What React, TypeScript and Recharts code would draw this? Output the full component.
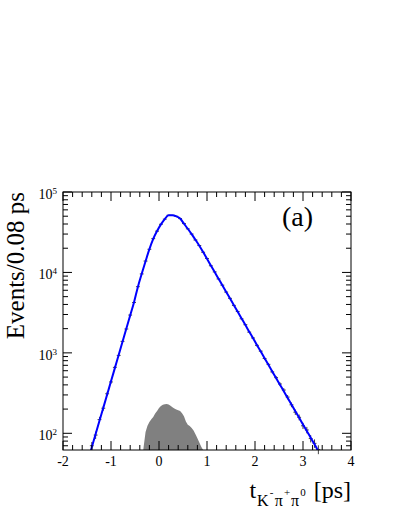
import React from 'react';
import { ComposedChart, Line, Area, Scatter, XAxis, YAxis, ErrorBar } from 'recharts';

const W = 399;
const H = 516;
const PLOT = { left: 63, right: 351, top: 192, bottom: 450 };
const FONT = '"Liberation Serif", "Times New Roman", serif';
const X_MIN = -2;
const X_MAX = 4;
const Y_MIN = 62;
const Y_MAX = 100000;
const BIN_HALF = 0.04;

const X_MAJOR = [-2, -1, 0, 1, 2, 3, 4];
const X_MINOR = [-1.8, -1.6, -1.4, -1.2, -0.8, -0.6, -0.4, -0.2, 0.2, 0.4, 0.6, 0.8, 1.2, 1.4, 1.6, 1.8, 2.2, 2.4, 2.6, 2.8, 3.2, 3.4, 3.6, 3.8];
const Y_MAJOR = [100, 1000, 10000, 100000];
const Y_MINOR = [70, 80, 90, 200, 300, 400, 500, 600, 700, 800, 900, 2000, 3000, 4000, 5000, 6000, 7000, 8000, 9000, 20000, 30000, 40000, 50000, 60000, 70000, 80000, 90000];

// fit curve (blue)
const FIT_T = [-1.56, -1.48, -1.40, -1.32, -1.24, -1.16, -1.08, -1.00, -0.92, -0.84, -0.76, -0.68, -0.60, -0.52, -0.44, -0.36, -0.28, -0.20, -0.12, -0.04, 0.04, 0.12, 0.20, 0.28, 0.36, 0.44, 0.52, 0.60, 0.68, 0.76, 0.84, 0.92, 1.00, 1.08, 1.16, 1.24, 1.32, 1.40, 1.48, 1.56, 1.64, 1.72, 1.80, 1.88, 1.96, 2.04, 2.12, 2.20, 2.28, 2.36, 2.44, 2.52, 2.60, 2.68, 2.76, 2.84, 2.92, 3.00, 3.08, 3.16, 3.24, 3.32, 3.40, 3.48];
const FIT_N = [31, 46, 67, 98, 143, 208, 303, 443, 646, 942, 1374, 2004, 2924, 4266, 6610, 9620, 13770, 19500, 26200, 32700, 39600, 46100, 51500, 51500, 49800, 46800, 40400, 34900, 29900, 25400, 21500, 17900, 14800, 12200, 10100, 8360, 6920, 5730, 4730, 3920, 3240, 2680, 2220, 1830, 1520, 1250, 1040, 859, 710, 587, 486, 402, 333, 275, 228, 188, 156, 129, 107, 88, 73, 60, 50, 41];

// data points
const PT_T = [-1.40, -1.32, -1.24, -1.16, -1.08, -1.00, -0.92, -0.84, -0.76, -0.68, -0.60, -0.52, -0.44, -0.36, -0.28, -0.20, -0.12, -0.04, 0.04, 0.12, 0.20, 0.28, 0.36, 0.44, 0.52, 0.60, 0.68, 0.76, 0.84, 0.92, 1.00, 1.08, 1.16, 1.24, 1.32, 1.40, 1.48, 1.56, 1.64, 1.72, 1.80, 1.88, 1.96, 2.04, 2.12, 2.20, 2.28, 2.36, 2.44, 2.52, 2.60, 2.68, 2.76, 2.84, 2.92, 3.00, 3.08, 3.16, 3.24, 3.32];
const PT_N = [70, 95, 148, 205, 310, 435, 660, 930, 1390, 1980, 2950, 4230, 6650, 9580, 13850, 19400, 26300, 32600, 39700, 46000, 51400, 51300, 49900, 46700, 40500, 34800, 30000, 25300, 21600, 17800, 14900, 12100, 10150, 8300, 6950, 5700, 4760, 3890, 3270, 2650, 2240, 1810, 1530, 1240, 1050, 850, 720, 580, 492, 410, 345, 282, 226, 183, 158, 124, 110, 86, 75, 63];
const PT_E = [8, 10, 12, 14, 18, 21, 26, 30, 37, 44, 54, 65, 82, 98, 118, 139, 162, 181, 199, 214, 227, 226, 223, 216, 201, 187, 173, 159, 147, 133, 122, 110, 101, 91, 83, 75, 69, 62, 57, 51, 47, 43, 39, 35, 32, 29, 27, 24, 22, 20, 19, 17, 15, 14, 13, 11, 10, 9, 9, 8];

// background (gray)
const BKG_T = [-0.36, -0.32, -0.28, -0.24, -0.20, -0.16, -0.12, -0.08, -0.04, 0.00, 0.04, 0.08, 0.12, 0.16, 0.20, 0.24, 0.28, 0.32, 0.36, 0.40, 0.44, 0.48, 0.52, 0.56, 0.60, 0.64, 0.68, 0.72, 0.76, 0.80, 0.84, 0.88, 0.92, 0.96];
const BKG_N = [40, 68, 104, 124, 138, 150, 160, 176, 190, 206, 218, 226, 229, 232, 228, 220, 211, 204, 198, 194, 189, 178, 163, 140, 128, 123, 116, 108, 97, 87, 77, 68, 62, 50];

const fitData = FIT_T.map((t, i) => ({ t, n: FIT_N[i] }));
const pointData = PT_T.map((t, i) => ({ t, n: PT_N[i], e: PT_E[i], ex: BIN_HALF }));
const bkgData = BKG_T.map((t, i) => ({ t, n: BKG_N[i] }));

const isIn = (arr: number[], v: number) => arr.some((m) => Math.abs(m - v) < 1e-6);

const XTick = (props: any) => {
  const { x, payload } = props;
  const v = payload.value;
  const major = isIn(X_MAJOR, v);
  const len = major ? 9 : 5;
  return (
    <g>
      <line x1={x} x2={x} y1={PLOT.bottom} y2={PLOT.bottom - len} stroke="#000" strokeWidth={1} />
      <line x1={x} x2={x} y1={PLOT.top} y2={PLOT.top + len} stroke="#000" strokeWidth={1} />
      {major && (
        <text x={x} y={466} textAnchor="middle" fontSize={14} fontFamily={FONT} fill="#000">
          {String(v)}
        </text>
      )}
    </g>
  );
};

const YTick = (props: any) => {
  const { y, payload } = props;
  const v = payload.value;
  const major = isIn(Y_MAJOR, v);
  const len = major ? 9 : 5;
  const exp = Math.round(Math.log10(v));
  return (
    <g>
      <line x1={PLOT.left} x2={PLOT.left + len} y1={y} y2={y} stroke="#000" strokeWidth={1} />
      <line x1={PLOT.right} x2={PLOT.right - len} y1={y} y2={y} stroke="#000" strokeWidth={1} />
      {major && (
        <text x={57} y={y + 7} textAnchor="end" fontSize={14} fontFamily={FONT} fill="#000">
          10
          <tspan fontSize={9} dy={-5}>{exp}</tspan>
        </text>
      )}
    </g>
  );
};

export default function App() {
  return (
    <div style={{ position: 'absolute', left: 0, top: 0, width: W, height: H, background: '#fff' }}>
      <ComposedChart
        width={W}
        height={H}
        margin={{ top: PLOT.top, right: W - PLOT.right, bottom: 36, left: 23 }}
      >
        <XAxis
          type="number"
          dataKey="t"
          domain={[X_MIN, X_MAX]}
          ticks={[...X_MAJOR, ...X_MINOR].sort((a, b) => a - b)}
          interval={0}
          allowDataOverflow
          axisLine={false}
          tickLine={false}
          tick={<XTick />}
          height={H - PLOT.bottom - 36}
        />
        <YAxis
          type="number"
          dataKey="n"
          scale="log"
          domain={[Y_MIN, Y_MAX]}
          ticks={[...Y_MINOR, ...Y_MAJOR].sort((a, b) => a - b)}
          interval={0}
          allowDataOverflow
          axisLine={false}
          tickLine={false}
          tick={<YTick />}
          width={PLOT.left - 23}
        />
        <Area
          data={bkgData}
          dataKey="n"
          type="linear"
          baseValue={Y_MIN}
          fill="#808080"
          fillOpacity={1}
          stroke="none"
          isAnimationActive={false}
        />
        <Scatter data={pointData} dataKey="n" shape={() => <g />} isAnimationActive={false}>
          <ErrorBar dataKey="e" direction="y" width={0} stroke="#444" strokeWidth={1} />
          <ErrorBar dataKey="ex" direction="x" width={0} stroke="#444" strokeWidth={1} />
        </Scatter>
        <Line
          data={fitData}
          dataKey="n"
          type="monotone"
          stroke="#0000ff"
          strokeWidth={2}
          dot={false}
          isAnimationActive={false}
        />
      </ComposedChart>
      <svg
        width={W}
        height={H}
        style={{ position: 'absolute', left: 0, top: 0, pointerEvents: 'none' }}
      >
        <rect
          x={PLOT.left}
          y={PLOT.top}
          width={PLOT.right - PLOT.left}
          height={PLOT.bottom - PLOT.top}
          fill="none"
          stroke="#000"
          strokeWidth={1}
        />
        <text
          transform={`translate(23.5, ${PLOT.top}) rotate(-90)`}
          textAnchor="end"
          fontSize={25}
          fontFamily={FONT}
          fill="#000"
        >
          Events/0.08 ps
        </text>
        <text x={282} y={226} fontSize={28} fontFamily={FONT} fill="#000">
          (a)
        </text>
        <text x={PLOT.right} y={498} textAnchor="end" fontSize={24} fontFamily={FONT} fill="#000">
          t
          <tspan fontSize={16} dy={8} dx={1}>K</tspan>
          <tspan fontSize={11} dy={-10} dx={1}>-</tspan>
          <tspan fontSize={16} dy={10} dx={1.5}>π</tspan>
          <tspan fontSize={11} dy={-10} dx={1}>+</tspan>
          <tspan fontSize={16} dy={10} dx={1}>π</tspan>
          <tspan fontSize={11} dy={-10} dx={1}>0</tspan>
          <tspan fontSize={24} dy={2} dx={2}> [ps]</tspan>
        </text>
      </svg>
    </div>
  );
}
